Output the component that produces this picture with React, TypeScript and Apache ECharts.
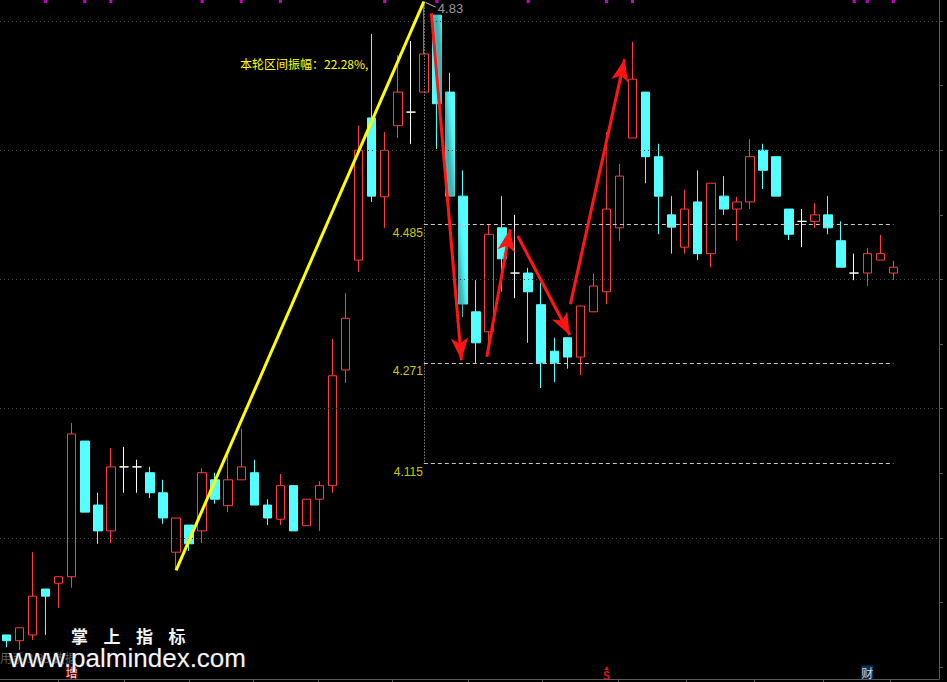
import React, { useEffect, useRef } from "react";
import * as echarts from "echarts";

// Daily bars: [open, close, low, high]
const candles: number[][] = [
  [3.850, 3.841, 3.831, 3.850],
  [3.841, 3.861, 3.827, 3.861],
  [3.850, 3.910, 3.842, 3.978],
  [3.921, 3.910, 3.850, 3.921],
  [3.930, 3.940, 3.892, 3.940],
  [3.940, 4.161, 3.923, 4.178],
  [4.150, 4.040, 4.040, 4.150],
  [4.051, 4.011, 3.991, 4.070],
  [4.011, 4.110, 3.992, 4.139],
  [4.110, 4.110, 4.070, 4.141],
  [4.110, 4.110, 4.070, 4.121],
  [4.101, 4.070, 4.062, 4.110],
  [4.070, 4.031, 4.022, 4.090],
  [3.978, 4.031, 3.950, 4.031],
  [4.020, 3.991, 3.980, 4.020],
  [4.011, 4.101, 3.992, 4.108],
  [4.090, 4.060, 4.053, 4.101],
  [4.050, 4.090, 4.040, 4.128],
  [4.090, 4.110, 4.090, 4.169],
  [4.101, 4.051, 4.051, 4.121],
  [4.051, 4.031, 4.020, 4.060],
  [4.029, 4.081, 4.020, 4.099],
  [4.081, 4.011, 4.011, 4.081],
  [4.019, 4.060, 4.019, 4.060],
  [4.060, 4.081, 4.011, 4.088],
  [4.081, 4.251, 4.070, 4.308],
  [4.260, 4.340, 4.240, 4.379],
  [4.430, 4.600, 4.412, 4.638],
  [4.650, 4.529, 4.520, 4.780],
  [4.528, 4.600, 4.480, 4.628],
  [4.638, 4.690, 4.619, 4.747],
  [4.659, 4.659, 4.610, 4.769],
  [4.690, 4.749, 4.690, 4.830],
  [4.809, 4.672, 4.602, 4.809],
  [4.690, 4.529, 4.529, 4.720],
  [4.529, 4.362, 4.342, 4.569],
  [4.350, 4.302, 4.271, 4.399],
  [4.319, 4.470, 4.302, 4.485],
  [4.480, 4.432, 4.381, 4.529],
  [4.410, 4.410, 4.371, 4.500],
  [4.410, 4.381, 4.302, 4.418],
  [4.361, 4.271, 4.232, 4.395],
  [4.289, 4.271, 4.241, 4.310],
  [4.310, 4.280, 4.262, 4.310],
  [4.280, 4.359, 4.252, 4.359],
  [4.350, 4.390, 4.350, 4.409],
  [4.381, 4.509, 4.362, 4.628],
  [4.480, 4.560, 4.460, 4.579],
  [4.619, 4.710, 4.619, 4.768],
  [4.690, 4.590, 4.549, 4.690],
  [4.590, 4.529, 4.470, 4.610],
  [4.500, 4.481, 4.440, 4.529],
  [4.450, 4.509, 4.440, 4.539],
  [4.520, 4.440, 4.430, 4.569],
  [4.440, 4.549, 4.419, 4.549],
  [4.529, 4.509, 4.500, 4.560],
  [4.509, 4.520, 4.460, 4.528],
  [4.520, 4.590, 4.509, 4.617],
  [4.600, 4.569, 4.540, 4.610],
  [4.590, 4.529, 4.529, 4.590],
  [4.509, 4.470, 4.461, 4.509],
  [4.490, 4.490, 4.450, 4.509],
  [4.490, 4.500, 4.480, 4.518],
  [4.500, 4.480, 4.470, 4.529],
  [4.460, 4.419, 4.419, 4.490],
  [4.410, 4.410, 4.399, 4.440],
  [4.410, 4.440, 4.390, 4.449],
  [4.430, 4.440, 4.430, 4.469],
  [4.410, 4.419, 4.399, 4.429],
];

// Total day slots on the axis (a few empty ones stay on the right)
const SLOT_COUNT = 72;
const slots = Array.from({ length: SLOT_COUNT }, (_, i) => String(i + 1));

// Price range of the main pane
const Y_MIN = 3.7818;
const Y_MAX = 4.8325;

// Swing: low bar -> high bar
const swingLow = { index: 13, price: 3.95 };
const swingHigh = { index: 32, price: 4.83 };

// Support / resistance levels drawn from the swing-high bar to the last bar
const levels = [4.485, 4.271, 4.115];
const levelEndIndex = 68;

// Dotted price grid and right-axis tick values
const gridLevels = [4.0, 4.2, 4.4, 4.6, 4.8];
const priceTicks = [3.8, 3.9, 4.0, 4.1, 4.2, 4.3, 4.4, 4.5, 4.6, 4.7, 4.8];

// Bottom axis tick positions (in bar units)
const dateTicks = [4, 9, 14, 18.9, 23.9, 29.6, 35.4, 41.1, 46.9, 52.1, 57.3, 62.6, 67.8];

// Trend arrows: [fromBar, fromPrice, toBar, toPrice]
const arrows: number[][] = [
  [32.58, 4.812, 34.88, 4.2754],
  [36.83, 4.2805, 38.62, 4.4777],
  [39.2, 4.4673, 43.19, 4.3141],
  [43.24, 4.362, 47.39, 4.7407],
];

// Signal flags along the top edge (bar indices)
const topFlags = [3, 6, 8, 15, 18, 21, 29, 33, 40, 46, 48, 65, 66, 68];

// Event tags along the bottom edge
const eventBars = [5, 46, 66];
const eventTexts = ["增", "S", "财"];
const eventColors = ["#7a0000", "", "#0f3c6c"];

const CJK = '"Noto Sans CJK SC", "Noto Sans", sans-serif';

function buildOption() {
  const candleData = candles.map((c) => {
    if (c[0] === c[1]) {
      return {
        value: c,
        itemStyle: { color: "#ffffff", color0: "#ffffff", borderColor: "#ffffff", borderColor0: "#ffffff" },
      };
    }
    return c;
  });

  const amplitude = ((swingHigh.price / swingLow.price - 1) * 100).toFixed(2);
  const pxPerUnit = 679 / (Y_MAX - Y_MIN);
  const flagPrice = Y_MAX - 1.5 / pxPerUnit;
  const tagPrice = Y_MIN + 7 / pxPerUnit;

  const watermarkChars = "掌上指标".split("");

  return {
    backgroundColor: "#000000",
    animation: false,
    grid: { left: -1, right: 8, top: 0, bottom: 3, containLabel: false },
    xAxis: [
      {
        type: "category",
        data: slots,
        boundaryGap: true,
        axisLine: { show: true, onZero: false, lineStyle: { color: "#5a5a5a", width: 1 } },
        axisTick: { show: false },
        axisLabel: { show: false },
        splitLine: { show: false },
      },
      {
        type: "value",
        min: -0.5,
        max: SLOT_COUNT - 0.5,
        position: "bottom",
        axisLine: { show: false, onZero: false },
        axisTick: { show: true, customValues: dateTicks, length: 3, lineStyle: { color: "#5a5a5a" } },
        axisLabel: { show: false },
        splitLine: { show: false },
      },
    ],
    yAxis: {
      type: "value",
      position: "right",
      min: Y_MIN,
      max: Y_MAX,
      axisLine: { show: true, onZero: false, lineStyle: { color: "#5a5a5a", width: 1 } },
      axisTick: { show: true, customValues: priceTicks, length: 4, lineStyle: { color: "#5a5a5a" } },
      axisLabel: { show: false },
      splitLine: { show: false },
    },
    series: [
      {
        // dotted price grid
        type: "line",
        xAxisIndex: 1,
        data: [],
        silent: true,
        markLine: {
          silent: true,
          symbol: ["none", "none"],
          label: { show: false },
          lineStyle: { color: "#474747", type: [1, 3], width: 1 },
          data: gridLevels.map((v) => ({ yAxis: v })),
        },
      },
      {
        type: "candlestick",
        xAxisIndex: 0,
        barWidth: 9,
        data: candleData,
        itemStyle: {
          color: "#000000",
          color0: "#54ffff",
          borderColor: "#ff3c3c",
          borderColor0: "#54ffff",
          borderWidth: 1,
        },
        z: 3,
      },
      {
        // level lines and the vertical marker at the swing high
        type: "line",
        xAxisIndex: 1,
        data: [],
        silent: true,
        z: 4,
        markLine: {
          silent: true,
          symbol: ["none", "none"],
          label: { show: false },
          lineStyle: { color: "#c8c8c8", type: [4, 3], width: 1 },
          data: [
            ...levels.map((v) => [
              { coord: [swingHigh.index, v] },
              { coord: [levelEndIndex, v] },
            ]),
            [
              { coord: [swingHigh.index, swingHigh.price], lineStyle: { type: [1, 2], color: "#c8c8c8" } },
              { coord: [swingHigh.index, Math.min(...levels)] },
            ],
            [
              { coord: [swingHigh.index + 0.15, swingHigh.price - 0.0015], lineStyle: { type: "solid", color: "#bdbdbd" } },
              { coord: [swingHigh.index + 0.9, swingHigh.price - 0.0085] },
            ],
          ],
        },
      },
      {
        // swing line
        type: "line",
        xAxisIndex: 1,
        symbol: "none",
        silent: true,
        z: 5,
        lineStyle: { color: "#ffff00", width: 3 },
        data: [
          [swingLow.index, swingLow.price],
          [swingHigh.index, swingHigh.price],
        ],
      },
      {
        // trend arrows
        type: "line",
        xAxisIndex: 1,
        data: [],
        silent: true,
        z: 6,
        markLine: {
          silent: true,
          symbol: ["none", "arrow"],
          symbolSize: [13, 22],
          label: { show: false },
          lineStyle: {
            color: "#ff1414",
            width: 3,
            type: "solid",
            shadowColor: "rgba(0,0,0,0.85)",
            shadowBlur: 6,
            shadowOffsetX: 4,
          },
          data: arrows.map((a) => [{ coord: [a[0], a[1]] }, { coord: [a[2], a[3]] }]),
        },
      },
      {
        // level values
        type: "scatter",
        xAxisIndex: 1,
        symbolSize: 0,
        silent: true,
        z: 7,
        data: levels.map((v) => [swingHigh.index, v]),
        label: {
          show: true,
          position: "left",
          distance: 1,
          offset: [0, 8],
          color: "#ffff00",
          fontSize: 12,
          fontFamily: "Liberation Sans, Arial, sans-serif",
          formatter: (p: any) => p.value[1].toFixed(3),
        },
      },
      {
        // swing-high price
        type: "scatter",
        xAxisIndex: 1,
        symbolSize: 0,
        silent: true,
        z: 7,
        data: [[swingHigh.index, swingHigh.price]],
        label: {
          show: true,
          position: "right",
          distance: 0,
          offset: [14, 7],
          color: "#c0c0c0",
          fontSize: 13,
          fontFamily: "Liberation Sans, Arial, sans-serif",
          formatter: (p: any) => p.value[1].toFixed(2),
        },
      },
      {
        // top flags
        type: "scatter",
        xAxisIndex: 1,
        symbol: "rect",
        symbolSize: [3, 3],
        silent: true,
        z: 7,
        itemStyle: { color: "#ff00ff" },
        data: topFlags.map((i) => [i, flagPrice]),
      },
      {
        // bottom event tags
        type: "scatter",
        xAxisIndex: 1,
        symbolSize: 0,
        silent: true,
        z: 7,
        data: eventBars.map((b, k) => ({
          value: [b, tagPrice],
          label: eventColors[k]
            ? {
                backgroundColor: eventColors[k],
                color: "#ffffff",
                formatter: eventTexts[k],
              }
            : {
                color: "#ff2020",
                fontWeight: "bold",
                formatter: "{t|▲}\n{s|" + eventTexts[k] + "}",
                rich: {
                  t: { fontSize: 5, lineHeight: 4, color: "#ff2020", align: "center" },
                  s: { fontSize: 12, lineHeight: 10, color: "#ff2020", fontWeight: "bold", align: "center" },
                },
              },
        })),
        label: {
          show: true,
          position: "inside",
          fontSize: 12,
          fontFamily: CJK,
          padding: [1, 0, 0, 0],
        },
      },
    ],
    graphic: [
      {
        type: "text",
        x: 240,
        y: 57,
        z: 20,
        style: {
          text: "本轮区间振幅：" + amplitude + "%,",
          fill: "#ffff00",
          font: "12px " + CJK,
        },
      },
      {
        type: "text",
        x: 0,
        y: 651,
        z: 20,
        style: {
          text: "用系 3.83 数据",
          fill: "#5e5e5e",
          font: "12px " + CJK,
        },
      },
      ...watermarkChars.map((ch, k) => ({
        type: "text",
        x: 71 + k * 32.5,
        y: 627,
        z: 21,
        style: {
          text: ch,
          fill: "#f4f4f4",
          font: "bold 17px " + CJK,
        },
      })),
      {
        type: "text",
        x: 9,
        y: 658,
        z: 21,
        style: {
          text: "www.palmindex.com",
          fill: "#f4f4f4",
          font: '26px "Liberation Sans", Arial, sans-serif',
          verticalAlign: "middle",
          stroke: "#3a3a3a",
          lineWidth: 0.6,
        },
      },
    ],
  };
}

export default function App() {
  const ref = useRef<HTMLDivElement>(null);

  useEffect(() => {
    if (!ref.current) return;
    const chart = echarts.init(ref.current, null, { renderer: "svg" });
    chart.setOption(buildOption() as any);
    return () => {
      chart.dispose();
    };
  }, []);

  return (
    <div
      ref={ref}
      style={{
        position: "fixed",
        left: 0,
        top: 0,
        width: 947,
        height: 682,
        background: "#000000",
      }}
    />
  );
}
